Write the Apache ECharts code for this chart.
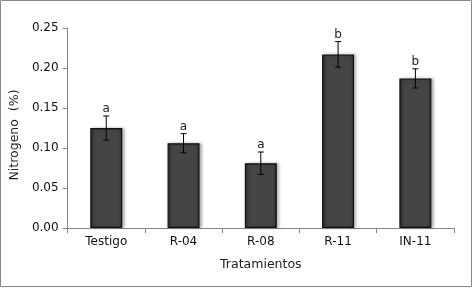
<!DOCTYPE html>
<html>
<head>
<meta charset="utf-8">
<script src="https://cdn.jsdelivr.net/npm/echarts@6/dist/echarts.min.js"></script>
<style>
  html, body { margin: 0; padding: 0; background: #fff; }
  #chart { width: 473px; height: 288px; }
</style>
</head>
<body>
<div id="chart"></div>
<script>
// Données
const tratamientos = ['Testigo', 'R-04', 'R-08', 'R-11', 'IN-11'];
const nitrogeno = [0.125, 0.106, 0.081, 0.217, 0.187];
const errores = [0.015, 0.012, 0.014, 0.016, 0.012];
const letras = ['a', 'a', 'a', 'b', 'b'];
const yTicks = [0, 0.05, 0.10, 0.15, 0.20, 0.25];

const chart = echarts.init(document.getElementById('chart'), null, { renderer: 'canvas' });
const font = 'DejaVu Sans, Verdana, sans-serif';

// Barres d'erreur + lettres de significativité
function renderError(params, api) {
    const idx = api.value(0);
    const mean = api.value(1);
    const err = api.value(2);
    const top = api.coord([idx, mean + err]);
    const bot = api.coord([idx, mean - err]);
    const cap = 3;
    const style = { stroke: '#000', lineWidth: 1 };
    return {
        type: 'group',
        children: [
            { type: 'line', shape: { x1: top[0], y1: top[1], x2: bot[0], y2: bot[1] }, style: style },
            { type: 'line', shape: { x1: top[0] - cap, y1: top[1], x2: top[0] + cap, y2: top[1] }, style: style },
            { type: 'line', shape: { x1: bot[0] - cap, y1: bot[1], x2: bot[0] + cap, y2: bot[1] }, style: style },
            {
                type: 'text',
                x: top[0], y: top[1] - 1,
                style: {
                    text: letras[idx],
                    fill: '#222',
                    font: '12px ' + font,
                    align: 'center',
                    verticalAlign: 'bottom'
                }
            }
        ]
    };
}

const option = {
    backgroundColor: '#fff',
    animation: false,
    grid: { left: 65, right: 19, top: 28, bottom: 60 },
    graphic: [{
        type: 'rect',
        shape: { x: 0.5, y: 0.5, width: 471, height: 286 },
        style: { fill: 'none', stroke: '#888', lineWidth: 1 }
    }],
    xAxis: {
        type: 'category',
        data: tratamientos,
        name: 'Tratamientos',
        nameLocation: 'middle',
        nameGap: 30,
        nameTextStyle: { color: '#222', fontSize: 12.5, fontFamily: font },
        axisLine: { lineStyle: { color: '#868686', width: 1 } },
        axisTick: { show: true, length: 5, lineStyle: { color: '#868686' } },
        axisLabel: { color: '#111', fontSize: 12, fontFamily: font, margin: 8 }
    },
    yAxis: {
        type: 'value',
        min: 0,
        max: 0.25,
        interval: 0.05,
        name: 'Nitrogeno  (%)',
        nameLocation: 'middle',
        nameGap: 42,
        nameRotate: 90,
        nameTextStyle: { color: '#222', fontSize: 12.5, fontFamily: font, padding: [0, 0, 0, -14] },
        axisLine: { show: true, lineStyle: { color: '#868686', width: 1 } },
        axisTick: { show: true, length: 5, lineStyle: { color: '#868686' } },
        splitLine: { show: false },
        axisLabel: {
            color: '#111', fontSize: 12, fontFamily: font, margin: 9,
            formatter: v => yTicks.some(t => Math.abs(t - v) < 1e-9) ? v.toFixed(2) : ''
        }
    },
    series: [
        {
            type: 'bar',
            data: nitrogeno,
            barWidth: 32,
            itemStyle: {
                color: new echarts.graphic.LinearGradient(0, 0, 1, 0, [
                    { offset: 0, color: '#2e2e2e' },
                    { offset: 0.12, color: '#454545' },
                    { offset: 0.88, color: '#454545' },
                    { offset: 1, color: '#2e2e2e' }
                ]),
                borderColor: '#111',
                borderWidth: 1.2,
                shadowColor: 'rgba(0,0,0,0.35)',
                shadowBlur: 3,
                shadowOffsetX: 2,
                shadowOffsetY: 0
            }
        },
        {
            type: 'custom',
            renderItem: renderError,
            data: nitrogeno.map((v, i) => [i, v, errores[i]]),
            z: 10
        }
    ]
};

chart.setOption(option);
</script>
</body>
</html>
